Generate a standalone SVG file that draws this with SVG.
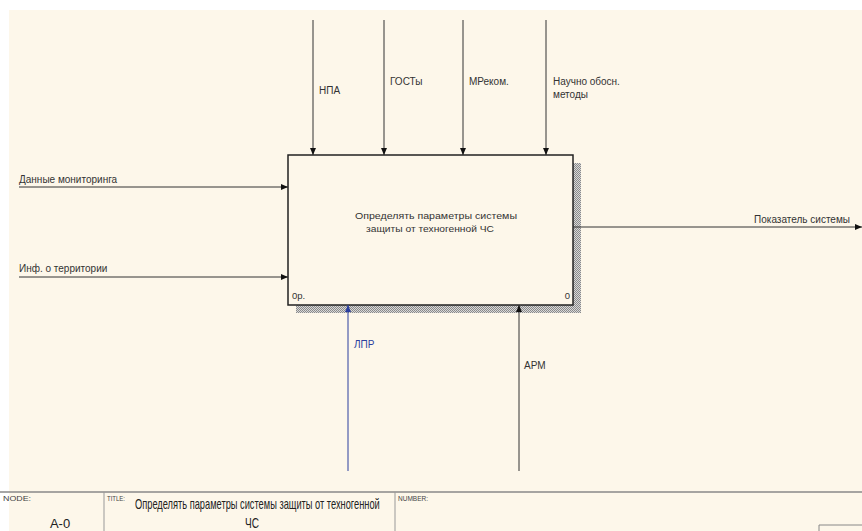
<svg xmlns="http://www.w3.org/2000/svg" width="862" height="531" viewBox="0 0 862 531">
  <style>
    .lbl { font-family: "Liberation Sans", Arial, sans-serif; font-size: 10px; fill: #333; }
    .box { font-family: "Liberation Sans", Arial, sans-serif; font-size: 9.5px; fill: #333; }
    .hdr { font-family: "Liberation Sans", Arial, sans-serif; font-size: 8px; fill: #444; }
    .ttl { font-family: "Liberation Sans", Arial, sans-serif; font-size: 14px; fill: #222; }
    .arrow { stroke: #333; stroke-width: 1; fill: none; }
    .blue { stroke: #2b3f9e; stroke-width: 1; fill: none; }
  </style>
  <defs>
    <pattern id="hatch" width="2" height="2" patternUnits="userSpaceOnUse">
      <rect width="2" height="2" fill="#d8d8d8"/>
      <rect width="1" height="1" fill="#8a8a8a"/>
      <rect x="1" y="1" width="1" height="1" fill="#8a8a8a"/>
    </pattern>
    <marker id="ah" markerWidth="8" markerHeight="8" refX="7" refY="4" orient="auto" markerUnits="userSpaceOnUse">
      <path d="M0,1 L7,4 L0,7 Z" fill="#111"/>
    </marker>
    <marker id="ahb" markerWidth="8" markerHeight="8" refX="7" refY="4" orient="auto" markerUnits="userSpaceOnUse">
      <path d="M0,1 L7,4 L0,7 Z" fill="#2b3f9e"/>
    </marker>
  </defs>

  <!-- sheet -->
  <rect width="862" height="531" fill="#ffffff"/>
  <rect x="9" y="10" width="853" height="521" fill="#fdf7ea"/>

  <!-- activity box -->
  <g id="node-a0">
    <rect x="296" y="163" width="285" height="150" fill="url(#hatch)"/>
    <rect x="288" y="155" width="285" height="150" fill="#fdf7ea" stroke="#222" stroke-width="1.5"/>
    <text class="box" x="436" y="219" text-anchor="middle" textLength="162" lengthAdjust="spacingAndGlyphs">Определять параметры системы</text>
    <text class="box" x="430" y="232" text-anchor="middle" textLength="128" lengthAdjust="spacingAndGlyphs">защиты от техногенной ЧС</text>
    <text class="box" x="292" y="299">0р.</text>
    <text class="box" x="570" y="299" text-anchor="end">0</text>
  </g>

  <!-- connectors -->
  <g id="connectors">
    <!-- controls -->
    <line class="arrow" x1="313" y1="20" x2="313" y2="155" marker-end="url(#ah)"/>
    <line class="arrow" x1="384" y1="20" x2="384" y2="155" marker-end="url(#ah)"/>
    <line class="arrow" x1="463" y1="20" x2="463" y2="155" marker-end="url(#ah)"/>
    <line class="arrow" x1="546" y1="20" x2="546" y2="155" marker-end="url(#ah)"/>
    <!-- inputs -->
    <line class="arrow" x1="19" y1="187" x2="288" y2="187" marker-end="url(#ah)"/>
    <line class="arrow" x1="19" y1="277" x2="288" y2="277" marker-end="url(#ah)"/>
    <!-- output -->
    <line class="arrow" x1="573" y1="227" x2="862" y2="227" marker-end="url(#ah)"/>
    <!-- mechanisms -->
    <line class="blue" x1="348" y1="471" x2="348" y2="305" marker-end="url(#ahb)"/>
    <line class="arrow" x1="519" y1="471" x2="519" y2="305" marker-end="url(#ah)"/>
  </g>

  <!-- arrow labels -->
  <g id="labels">
    <text class="lbl" x="319" y="94">НПА</text>
    <text class="lbl" x="390" y="85">ГОСТы</text>
    <text class="lbl" x="469" y="85">МРеком.</text>
    <text class="lbl" x="553" y="85">Научно обосн.</text>
    <text class="lbl" x="553" y="98">методы</text>
    <text class="lbl" x="19" y="183">Данные мониторинга</text>
    <text class="lbl" x="19" y="272">Инф. о территории</text>
    <text class="lbl" x="850" y="223" text-anchor="end">Показатель системы</text>
    <text class="lbl" x="354" y="348" style="fill:#2b3f9e">ЛПР</text>
    <text class="lbl" x="524" y="369">АРМ</text>
  </g>

  <!-- title block -->
  <g id="title-block">
    <line x1="0" y1="492" x2="862" y2="492" stroke="#888" stroke-width="1.5"/>
    <line x1="104" y1="492" x2="104" y2="531" stroke="#999" stroke-width="1"/>
    <line x1="395" y1="492" x2="395" y2="531" stroke="#999" stroke-width="1"/>
    <path d="M819,531 V525 H862" fill="none" stroke="#888" stroke-width="1"/>
    <text class="hdr" x="3" y="501" textLength="28" lengthAdjust="spacingAndGlyphs">NODE:</text>
    <text class="ttl" x="60" y="528" text-anchor="middle" style="font-size:13px">A-0</text>
    <text class="hdr" x="107" y="501" textLength="18" lengthAdjust="spacingAndGlyphs">TITLE:</text>
    <text class="ttl" transform="scale(0.72,1)" x="187.5" y="509" textLength="340" lengthAdjust="spacingAndGlyphs">Определять параметры системы защиты от техногенной</text>
    <text class="ttl" transform="scale(0.72,1)" x="350" y="528" text-anchor="middle">ЧС</text>
    <text class="hdr" x="398" y="501" textLength="30" lengthAdjust="spacingAndGlyphs">NUMBER:</text>
  </g>
</svg>
